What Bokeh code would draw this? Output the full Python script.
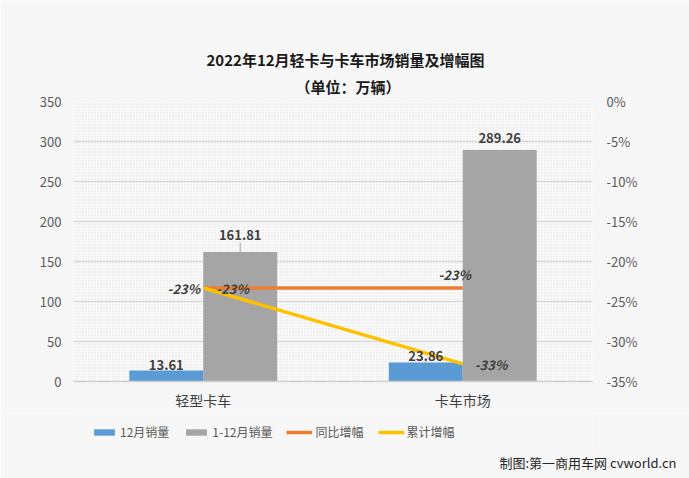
from bokeh.plotting import figure
from bokeh.layouts import column
from bokeh.models import (ColumnDataSource, FactorRange, Range1d, LinearAxis, FixedTicker,
                          PrintfTickFormatter, LabelSet, Legend, LegendItem, BoxAnnotation, Title)
from bokeh.transform import dodge
from bokeh.core.properties import value
from bokeh.embed import file_html
from bokeh.resources import INLINE

categories = ["轻型卡车", "卡车市场"]
dec_sales = [13.61, 23.86]
ytd_sales = [161.81, 289.26]
yoy_growth = [-23.3, -23.3]
cum_growth = [-23.3, -32.8]
yoy_labels = ["-23%", "-23%"]
cum_labels = ["-23%", "-33%"]
left_ticks = [0, 50, 100, 150, 200, 250, 300, 350]
right_ticks = [-35, -30, -25, -20, -15, -10, -5, 0]
series_names = ["12月销量", "1-12月销量", "同比增幅", "累计增幅"]

FONT = "Noto Sans CJK SC"
BLUE = "#5b9bd5"
GRAY = "#a5a5a5"
ORANGE = "#ed7d31"
YELLOW = "#ffc000"
BG = "#f7f7f7"

src = ColumnDataSource(dict(
    cat=categories, dec=dec_sales, ytd=ytd_sales, yoy=yoy_growth, cum=cum_growth,
    dec_t=[f"{v:.2f}" for v in dec_sales],
))

W = 689
H1 = 412
H2 = 66
ML, MR, MT, MB = 73, 97, 101, 30
p = figure(x_range=FactorRange(*categories, range_padding=0), y_range=Range1d(0, 350),
           width=W, height=H1, output_backend="svg", toolbar_location=None,
           min_border_left=ML, min_border_right=MR, min_border_top=MT, min_border_bottom=MB,
           title="2022年12月轻卡与卡车市场销量及增幅图")
p.extra_y_ranges = {"pct": Range1d(-35, 0)}
p.background_fill_color = "#fbfbfb"
p.border_fill_color = BG
p.outline_line_color = None

p.title.align = "left"
p.title.offset = 133
p.title.text_font = FONT
p.title.text_font_size = "15px"
p.title.text_font_style = "bold"
p.title.text_color = "#1a1a1a"
p.title.standoff = 0
p.add_layout(Title(text="（单位：万辆）", align="left", offset=222, text_font=FONT,
                   text_font_size="15px", text_font_style="bold", text_color="#1a1a1a",
                   standoff=9), "above")

# dotted pattern background
p.add_layout(BoxAnnotation(fill_alpha=0, hatch_pattern="dot",
                           hatch_color="#d6d6d6", hatch_scale=3, hatch_alpha=0.8,
                           line_color=None, level="underlay"))

p.xgrid.grid_line_color = None
p.ygrid.ticker = FixedTicker(ticks=left_ticks)
p.ygrid.grid_line_color = "#d9d9d9"
p.ygrid.grid_line_width = 1.5

p.yaxis.ticker = FixedTicker(ticks=left_ticks)
ax = p.yaxis[0]
ax.axis_line_color = None
ax.major_tick_line_color = None
ax.minor_tick_line_color = None
ax.major_label_text_font = FONT
ax.major_label_text_font_size = "13px"
ax.major_label_text_color = "#595959"
ax.major_label_standoff = 6

rax = LinearAxis(y_range_name="pct", ticker=FixedTicker(ticks=right_ticks),
                 formatter=PrintfTickFormatter(format="%d%%"))
rax.axis_line_color = None
rax.major_tick_line_color = None
rax.minor_tick_line_color = None
rax.major_label_text_font = FONT
rax.major_label_text_font_size = "13px"
rax.major_label_text_color = "#595959"
rax.major_label_standoff = 8
p.add_layout(rax, "right")

p.xaxis.axis_line_color = "#d0d0d0"
p.xaxis.axis_line_width = 1.5
p.xaxis.major_tick_line_color = None
p.xaxis.minor_tick_line_color = None
p.xaxis.major_label_text_font = FONT
p.xaxis.major_label_text_font_size = "14px"
p.xaxis.major_label_text_color = "#404040"
p.xaxis.major_label_standoff = 2

BW = 0.285
p.vbar(x=dodge("cat", -BW / 2, range=p.x_range), top="dec", width=BW, source=src,
       fill_color=BLUE, line_color=None)
p.vbar(x=dodge("cat", BW / 2, range=p.x_range), top="ytd", width=BW, source=src,
       fill_color=GRAY, line_color=None)
p.line(x="cat", y="yoy", source=src, y_range_name="pct", line_color=ORANGE, line_width=3.5)
p.line(x="cat", y="cum", source=src, y_range_name="pct", line_color=YELLOW, line_width=3.5)

lab_style = dict(text_font=value(FONT), text_font_size="13px", text_color="#404040",
                 text_font_style="bold", text_align="center", text_baseline="bottom")

# 12月 labels
p.add_layout(LabelSet(x=dodge("cat", -BW / 2, range=p.x_range), y="dec", text="dec_t",
                      source=src, y_offset=1, **lab_style))
# 1-12月 labels (first one raised with a leader line)
src_a = ColumnDataSource(dict(cat=categories[:1], ytd=ytd_sales[:1], t=[f"{ytd_sales[0]:.2f}"],
                              y1=[ytd_sales[0] + 12]))
src_b = ColumnDataSource(dict(cat=categories[1:], ytd=ytd_sales[1:], t=[f"{ytd_sales[1]:.2f}"]))
p.add_layout(LabelSet(x=dodge("cat", BW / 2, range=p.x_range), y="ytd", text="t",
                      source=src_a, y_offset=12, **lab_style))
p.segment(x0=dodge("cat", BW / 2, range=p.x_range), y0="ytd",
          x1=dodge("cat", BW / 2, range=p.x_range), y1="y1", source=src_a,
          line_color="#a6a6a6", line_width=1)
p.add_layout(LabelSet(x=dodge("cat", BW / 2, range=p.x_range), y="ytd", text="t",
                      source=src_b, y_offset=7, **lab_style))

pct_style = dict(text_font=value(FONT), text_font_size="13px", text_color="#404040",
                 text_font_style="bold italic", text_baseline="middle", y_range_name="pct")
src_l = ColumnDataSource(dict(cat=categories[:1], yoy=yoy_growth[:1], cum=cum_growth[:1],
                              yt=yoy_labels[:1], ct=cum_labels[:1]))
src_r = ColumnDataSource(dict(cat=categories[1:], yoy=yoy_growth[1:], cum=cum_growth[1:],
                              yt=yoy_labels[1:], ct=cum_labels[1:]))
p.add_layout(LabelSet(x="cat", y="cum", text="ct", source=src_l, x_offset=-3, y_offset=-1,
                      text_align="right", **pct_style))
p.add_layout(LabelSet(x="cat", y="yoy", text="yt", source=src_l, x_offset=13, y_offset=-1,
                      text_align="left", **pct_style))
p.add_layout(LabelSet(x="cat", y="yoy", text="yt", source=src_r, x_offset=-8, y_offset=13,
                      text_align="center", **pct_style))
p.add_layout(LabelSet(x="cat", y="cum", text="ct", source=src_r, x_offset=12, y_offset=-1,
                      text_align="left", **pct_style))

# ---- bottom strip: legend + credit ----
QB = 27
q = figure(width=W, height=H2, x_range=Range1d(0, 1), y_range=Range1d(0, 1),
           output_backend="svg", toolbar_location=None,
           min_border_left=ML, min_border_right=MR, min_border_top=0, min_border_bottom=QB,
           x_axis_location=None, y_axis_location=None)
q.background_fill_color = BG
q.border_fill_color = BG
q.outline_line_color = None
q.grid.visible = False
# off-screen proxies so the legend can draw its swatches
e = ColumnDataSource(dict(x=[-100, -99], y=[-100, -100]))
g1 = q.vbar(x="x", top="y", width=0.5, source=e, fill_color=BLUE, line_color=None)
g2 = q.vbar(x="x", top="y", width=0.5, source=e, fill_color=GRAY, line_color=None)
g3 = q.line(x="x", y="y", source=e, line_color=ORANGE, line_width=3.5)
g4 = q.line(x="x", y="y", source=e, line_color=YELLOW, line_width=3.5)
legend = Legend(items=[LegendItem(label=n, renderers=[g]) for n, g in zip(series_names, [g1, g2, g3, g4])],
                orientation="horizontal", location=(18, 11),
                background_fill_alpha=0, border_line_color=None,
                label_text_font=FONT, label_text_font_size="12px", label_text_color="#595959",
                glyph_width=26, glyph_height=8, spacing=14, label_standoff=3, padding=4, margin=0)
q.add_layout(legend, "center")
q.add_layout(Title(text="制图:第一商用车网 cvworld.cn", align="right", offset=-84,
                   text_font=FONT, text_font_size="13px", text_font_style="normal",
                   text_color="#262626", standoff=0, vertical_align="middle"), "below")

layout = column(p, q, spacing=0)
open("out.html", "w").write(file_html(layout, INLINE))
